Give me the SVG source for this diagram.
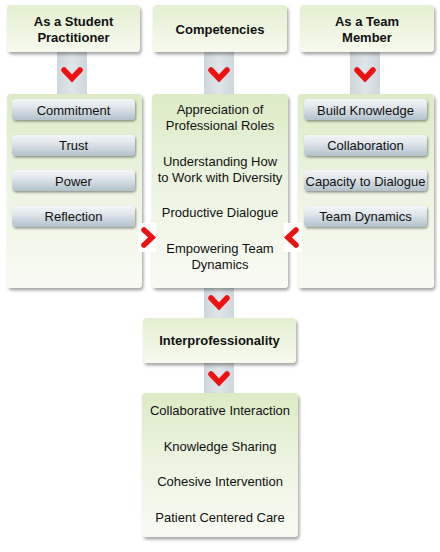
<svg xmlns="http://www.w3.org/2000/svg" width="440" height="552" viewBox="0 0 440 552">
<defs>
<linearGradient id="gHead" x1="0" y1="0" x2="0" y2="1"><stop offset="0" stop-color="#e4efd0"/><stop offset="1" stop-color="#f7faee"/></linearGradient>
<linearGradient id="gBox" x1="0" y1="0" x2="0" y2="1"><stop offset="0" stop-color="#dcebc6"/><stop offset="0.5" stop-color="#edf4e2"/><stop offset="1" stop-color="#f9fbf3"/></linearGradient>
<linearGradient id="gPill" x1="0" y1="0" x2="0" y2="1"><stop offset="0" stop-color="#f4f6f8"/><stop offset="0.35" stop-color="#e2e8ed"/><stop offset="1" stop-color="#b2c1cc"/></linearGradient>
<linearGradient id="gBand" x1="0" y1="0" x2="1" y2="0"><stop offset="0" stop-color="#cfd7dc"/><stop offset="0.5" stop-color="#dfe5e9"/><stop offset="1" stop-color="#cfd7dc"/></linearGradient>
<filter id="sh" x="-10%" y="-10%" width="130%" height="130%"><feDropShadow dx="1.5" dy="2.5" stdDeviation="1.8" flood-color="#000" flood-opacity="0.35"/></filter>
<filter id="shs" x="-10%" y="-20%" width="130%" height="160%"><feDropShadow dx="1" dy="1.5" stdDeviation="1" flood-color="#000" flood-opacity="0.4"/></filter>
<path id="chevD" d="M-8,-5 L0,3.5 L8,-5" fill="none" stroke="#ee1111" stroke-width="5.5" stroke-linejoin="miter" stroke-linecap="round"/>
</defs>
<style>
text{font-family:"Liberation Sans",Arial,sans-serif;font-size:13px;fill:#111;text-anchor:middle}
.h{font-weight:bold;font-size:13px}
.head{fill:url(#gHead);filter:url(#sh)}
.box{fill:url(#gBox);filter:url(#sh)}
.pill{fill:url(#gPill);filter:url(#shs)}
.band{fill:url(#gBand)}
</style>
<rect width="440" height="552" fill="#ffffff"/>
<g id="connectors">
<rect class="band" x="57" y="50" width="30" height="46"/>
<rect class="band" x="204" y="50" width="30" height="46"/>
<rect class="band" x="350" y="50" width="30" height="46"/>
<rect class="band" x="204" y="286" width="30" height="34"/>
<rect class="band" x="204" y="361" width="30" height="34"/>
<use href="#chevD" x="72" y="75"/>
<use href="#chevD" x="219" y="75"/>
<use href="#chevD" x="365" y="75"/>
<use href="#chevD" x="219" y="303"/>
<use href="#chevD" x="219" y="379"/>
</g>
<g id="col-student"><rect class="box" x="7" y="94" width="135" height="194" rx="4"/></g>
<g id="col-team"><rect class="box" x="298" y="94" width="136" height="194" rx="4"/></g>
<g id="col-comp"><rect class="box" x="152" y="94" width="136" height="194" rx="4"/></g>
<g id="side-connectors">
<rect x="138" y="223" width="18" height="29" fill="#ffffff"/>
<rect x="284" y="223" width="18" height="29" fill="#ffffff"/>
<path d="M144,230 L152,237.5 L144,245" fill="none" stroke="#ee1111" stroke-width="5.5" stroke-linecap="round"/>
<path d="M296,230 L288,237.5 L296,245" fill="none" stroke="#ee1111" stroke-width="5.5" stroke-linecap="round"/>
</g>
<g id="head-student"><rect class="head" x="7" y="5" width="133" height="47" rx="4"/><text class="h" x="73.5" y="26">As a Student</text><text class="h" x="73.5" y="42">Practitioner</text></g>
<g id="head-comp"><rect class="head" x="153" y="5" width="134" height="47" rx="4"/><text class="h" x="220" y="34">Competencies</text></g>
<g id="head-team"><rect class="head" x="300" y="5" width="134" height="47" rx="4"/><text class="h" x="367" y="26">As a Team</text><text class="h" x="367" y="42">Member</text></g>
<g id="student-items">
<rect class="pill" x="12" y="99" width="123" height="21" rx="4"/><text x="73.5" y="114.5">Commitment</text>
<rect class="pill" x="12" y="135" width="123" height="21" rx="4"/><text x="73.5" y="150">Trust</text>
<rect class="pill" x="12" y="170" width="123" height="21" rx="4"/><text x="73.5" y="185.5">Power</text>
<rect class="pill" x="12" y="206" width="123" height="21" rx="4"/><text x="73.5" y="221">Reflection</text>
</g>
<g id="team-items">
<rect class="pill" x="304" y="99" width="123" height="21" rx="4"/><text x="365.5" y="114.5">Build Knowledge</text>
<rect class="pill" x="304" y="135" width="123" height="21" rx="4"/><text x="365.5" y="150">Collaboration</text>
<rect class="pill" x="304" y="170" width="123" height="21" rx="4"/><text x="365.5" y="185.5">Capacity to Dialogue</text>
<rect class="pill" x="304" y="206" width="123" height="21" rx="4"/><text x="365.5" y="221">Team Dynamics</text>
</g>
<g id="comp-items">
<text x="220" y="114">Appreciation of</text><text x="220" y="130">Professional Roles</text>
<text x="220" y="166">Understanding How</text><text x="220" y="182">to Work with Diversity</text>
<text x="220" y="217">Productive Dialogue</text>
<text x="220" y="253">Empowering Team</text><text x="220" y="269">Dynamics</text>
</g>
<g id="interprof"><rect class="head" x="143" y="318" width="153" height="45" rx="4"/><text class="h" x="219.5" y="345">Interprofessionality</text></g>
<g id="outcomes"><rect class="box" x="142" y="393" width="156" height="144" rx="4"/>
<text x="220" y="415">Collaborative Interaction</text>
<text x="220" y="451">Knowledge Sharing</text>
<text x="220" y="486">Cohesive Intervention</text>
<text x="220" y="522">Patient Centered Care</text>
</g>
</svg>
